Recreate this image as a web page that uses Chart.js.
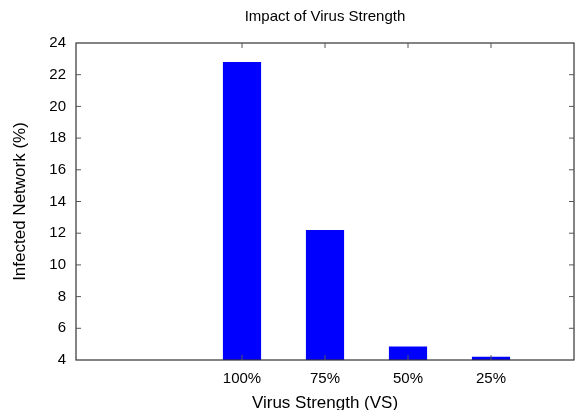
<!DOCTYPE html>
<html>
<head>
<meta charset="utf-8">
<script src="https://cdn.jsdelivr.net/npm/chart.js@4"></script>
<style>
body{margin:0;background:#fff;}
#wrap{width:576px;height:410px;}
</style>
</head>
<body>
<div id="wrap"><canvas id="chart" width="576" height="410"></canvas></div>
<script>
const labels = ['', '', '100%', '75%', '50%', '25%', ''];
const infected = [null, null, 22.8, 12.2, 4.85, 4.2, null];
const yMin = 4, yMax = 24, yStep = 2;
const FONT = '"Liberation Sans", Arial, sans-serif';

// gnuplot-ish frame with inward ticks on all four sides, plus the texts
const framePlugin = {
    id: 'frame',
    afterDraw(chart) {
        const {ctx, chartArea: a, scales} = chart;
        ctx.save();
        ctx.strokeStyle = '#333';
        ctx.lineWidth = 1.2;
        ctx.strokeRect(a.left, a.top, a.right - a.left, a.bottom - a.top);
        ctx.lineWidth = 1;
        ctx.strokeStyle = '#555';
        for (let v = yMin + yStep; v < yMax; v += yStep) {
            const y = scales.y.getPixelForValue(v);
            ctx.beginPath();
            ctx.moveTo(a.left, y); ctx.lineTo(a.left + 5, y);
            ctx.moveTo(a.right, y); ctx.lineTo(a.right - 5, y);
            ctx.stroke();
        }
        labels.forEach((l, i) => {
            if (!l) return;
            const x = scales.x.getPixelForValue(i);
            ctx.beginPath();
            ctx.moveTo(x, a.top); ctx.lineTo(x, a.top + 5);
            ctx.moveTo(x, a.bottom); ctx.lineTo(x, a.bottom - 5);
            ctx.stroke();
        });
        const cx = (a.left + a.right) / 2;
        ctx.fillStyle = '#000';
        ctx.textAlign = 'center';
        ctx.textBaseline = 'middle';
        ctx.font = '15px ' + FONT;
        ctx.fillText('Impact of Virus Strength', cx, 17);
        ctx.font = '17px ' + FONT;
        ctx.fillText('Virus Strength (VS)', cx, 403);
        ctx.translate(20, (a.top + a.bottom) / 2);
        ctx.rotate(-Math.PI / 2);
        ctx.fillText('Infected Network (%)', 0, 0);
        ctx.restore();
    }
};

Chart.defaults.font.family = FONT;
Chart.defaults.font.size = 15;
Chart.defaults.color = '#000';

new Chart(document.getElementById('chart'), {
    type: 'bar',
    data: {
        labels: labels,
        datasets: [{
            data: infected,
            backgroundColor: '#0000ff',
            borderWidth: 0,
            barPercentage: 0.46,
            categoryPercentage: 1
        }]
    },
    options: {
        responsive: false,
        animation: false,
        devicePixelRatio: 1,
        layout: {padding: {top: 43, right: 2, left: 0, bottom: 0}},
        plugins: {legend: {display: false}, tooltip: {enabled: false}},
        scales: {
            x: {
                offset: false,
                grid: {display: false, drawTicks: false},
                border: {display: false},
                ticks: {padding: 10, maxRotation: 0, autoSkip: false},
                afterFit(s) { s.height = 50; s.paddingLeft = 0; s.paddingRight = 0; }
            },
            y: {
                min: yMin, max: yMax,
                grid: {display: false, drawTicks: false},
                border: {display: false},
                ticks: {stepSize: yStep, padding: 10},
                afterFit(s) { s.width = 76; s.paddingTop = 0; s.paddingBottom = 0; }
            }
        }
    },
    plugins: [framePlugin]
});
</script>
</body>
</html>
